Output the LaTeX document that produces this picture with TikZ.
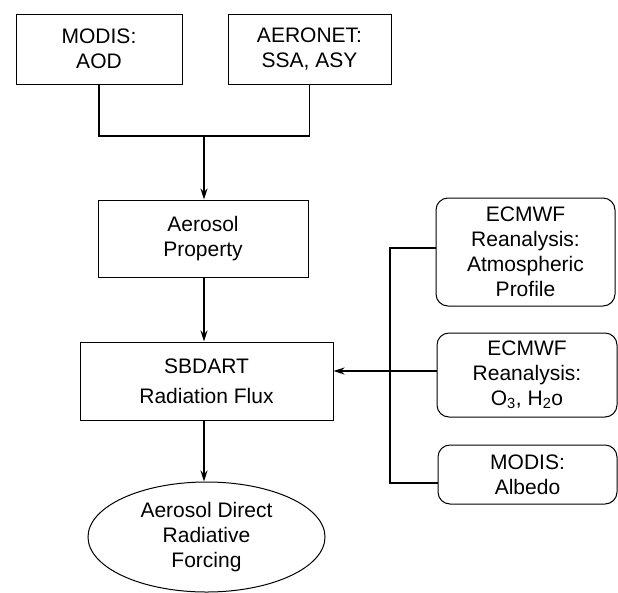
\documentclass[tikz,border=0pt]{standalone}
\usepackage{fontspec}
\setmainfont{Liberation Sans}
\usetikzlibrary{arrows.meta,shapes.geometric}
\begin{document}
\begin{tikzpicture}[x=1pt,y=-1pt,
  every node/.style={font=\fontsize{21}{25}\selectfont, align=center, inner sep=0pt},
  box/.style={draw, line width=1pt, rectangle},
  rbox/.style={draw, line width=1pt, rectangle, rounded corners=12pt},
  conn/.style={line width=1.6pt},
  arr/.style={line width=1.6pt, -{Stealth[length=11pt,width=7pt]}}]
\useasboundingbox (0,0) rectangle (618,592);
\node[box, minimum width=166pt, minimum height=70pt] (modis) at (99,49) {MODIS:\\AOD};
\node[box, minimum width=163pt, minimum height=70pt] (aeronet) at (309.5,49) {AERONET:\\SSA, ASY};
\node[box, minimum width=210pt, minimum height=77pt] (aer) at (203,238.5) {Aerosol\\Property};
\node[box, minimum width=253pt, minimum height=78pt, font=\fontsize{21}{30}\selectfont] (sb) at (206.5,381) {SBDART\\Radiation Flux};
\node[draw, line width=1pt, ellipse, minimum width=237pt, minimum height=110pt] (forc) at (206.5,537) {Aerosol Direct\\Radiative\\Forcing};
\node[rbox, minimum width=179pt, minimum height=108pt] (ecm1) at (525.5,252) {ECMWF\\Reanalysis:\\Atmospheric\\Profile};
\node[rbox, minimum width=180pt, minimum height=84pt] (ecm2) at (527,375) {ECMWF\\Reanalysis:\\O\textsubscript{3}, H\textsubscript{2}o};
\node[rbox, minimum width=179pt, minimum height=59pt] (alb) at (527.5,474.5) {MODIS:\\Albedo};
\coordinate (j) at (204,136);
\draw[conn] (modis.south) |- (j) -| (aeronet.south);
\draw[arr] (j) -- (aer.north -| j);
\draw[arr] (aer.south -| j) -- (sb.north -| j);
\draw[arr] (sb.south -| j) -- (forc.north -| j);
\coordinate (v1) at (390,248);
\coordinate (v2) at (390,483);
\draw[conn] (ecm1.west |- v1) -- (v1) -- (v2) -- (alb.west |- v2);
\draw[arr] (ecm2.west |- 0,371) -- (sb.east |- 0,371);
\end{tikzpicture}
\end{document}
